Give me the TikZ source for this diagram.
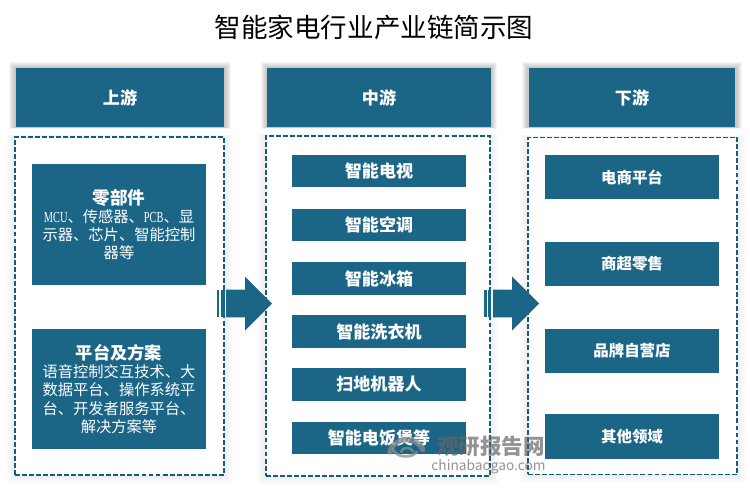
\documentclass[tikz,border=0pt]{standalone}
\usepackage{fontspec}
\usepackage{graphicx}
\setmainfont{Noto Sans CJK SC}
\newfontfamily\latinpart{Liberation Serif}
\usetikzlibrary{backgrounds}
\usetikzlibrary{shapes.arrows}
\definecolor{chainblue}{RGB}{27,101,135}
\definecolor{dashblue}{RGB}{18,92,130}
\tikzset{
	headbox/.style = {
		fill=chainblue, text=white, inner sep=0,
		minimum height=1.18cm, font=\fontsize{9.7}{11}\selectfont\bfseries
	},
	panel/.style = {
		draw=dashblue, fill=white, line width=0.8pt, inner sep=0,
		dash pattern=on 2.8pt off 1.2pt
	},
	itembox/.style = {
		fill=chainblue, text=white, inner sep=0, align=center,
		minimum width=3.48cm, font=\fontsize{8.7}{10.4}\selectfont
	},
	midbox/.style = {
		itembox, minimum height=0.65cm, font=\fontsize{9.7}{11}\selectfont\bfseries
	},
	flowarrow/.style = {
		fill=chainblue, single arrow, inner xsep=0, inner ysep=0.27cm,
		minimum height=0.92cm, outer sep=0, anchor=tip,
		single arrow head extend=0.26cm, single arrow tip angle=90
	},
	flowbar/.style = {
		fill=chainblue, inner sep=0, minimum height=0.54cm
	},
	markgray/.style = {
		text=black!60, opacity=0.7, inner sep=0
	},
	logoline/.style = {
		draw=black!45, opacity=0.75, line cap=round
	}
}
% soft edge round a node, on the background layer: node, steps, opacity, top and bottom spread
\newcommand{\softedge}[5]{%
	\begin{pgfonlayer}{background}
		\foreach \d in {1,...,#2}
		{
			\fill [black, opacity=#3] ([xshift=-\d*0.02cm, yshift=\d*#4cm]#1.north west) rectangle ([xshift=\d*0.02cm, yshift=-\d*#5cm]#1.south east);
		}
	\end{pgfonlayer}
}
\begin{document}
\begin{tikzpicture}[x=0.02cm, y=-0.02cm]
	\useasboundingbox (0, 0) rectangle (750, 490);
	\node [font=\fontsize{15.1}{18}\selectfont] (title) at (374, 27) {智能家电行业产业链简示图};
	% headers
	\node [headbox, minimum width=4.18cm] (up) at (120, 97.5) {上游};
	\node [headbox, minimum width=4.48cm] (mid) at (379, 97.5) {中游};
	\node [headbox, minimum width=4.14cm] (down) at (632, 97.5) {下游};
	\softedge{up}{6}{0.04}{0.02}{0.004}
	\softedge{mid}{6}{0.04}{0.02}{0.004}
	\softedge{down}{6}{0.04}{0.02}{0.004}
	% dashed frames
	\node [panel, minimum width=4.18cm, minimum height=6.76cm] (uppanel) at (119.5, 306) {};
	\node [panel, minimum width=4.48cm, minimum height=6.8cm] (midpanel) at (378, 306) {};
	\node [panel, minimum width=4.18cm, minimum height=6.74cm] (downpanel) at (632.5, 306) {};
	\softedge{uppanel}{8}{0.006}{0.004}{0.02}
	\softedge{midpanel}{8}{0.006}{0.004}{0.02}
	\softedge{downpanel}{8}{0.006}{0.004}{0.02}
	% upstream
	\node [itembox, minimum height=2.42cm] (parts) at (119, 224.5) {%
		{\fontsize{10}{10.4}\selectfont\bfseries 零部件}\\
		{\latinpart\scalebox{0.68}[1]{MCU}}、传感器、{\latinpart\scalebox{0.68}[1]{PCB}}、显\\
		示器、芯片、智能控制\\
		器等
	};
	\node [itembox, minimum height=2.4cm] (platform) at (119, 389) {%
		{\fontsize{9.8}{10.4}\selectfont\bfseries 平台及方案}\\
		语音控制交互技术、大\\
		数据平台、操作系统平\\
		台、开发者服务平台、\\
		解决方案等
	};
	% midstream
	\foreach [count=\i] \y/\name in {171/智能电视, 225/智能空调, 278.5/智能冰箱, 331.5/智能洗衣机, 384.5/扫地机器人, 438/智能电饭煲等}
	{
		\node [midbox] (mid\i) at (379, \y) {\name};
	}
	% downstream
	\foreach [count=\i] \y/\name in {177/电商平台, 264/商超零售, 351/品牌自营店, 436.5/其他领域}
	{
		\node [itembox, minimum height=0.89cm, font=\fontsize{8.8}{10.4}\selectfont\bfseries] (down\i) at (632, \y) {\name};
	}
	% arrows
	\node [flowbar, minimum width=0.05cm] (barA) at (218, 303.5) {};
	\node [flowbar, minimum width=0.08cm] (barB) at (222.5, 303.5) {};
	\node [flowarrow] (arrowA) at (272, 303.5) {};
	\node [flowbar, minimum width=0.05cm] (barC) at (485.5, 303.5) {};
	\node [flowbar, minimum width=0.05cm] (barD) at (489.5, 303.5) {};
	\node [flowarrow] (arrowB) at (539, 303.5) {};
	% watermark
	\draw [logoline, line width=3pt] (390, 452) arc (190:340:17 and 15);
	\draw [logoline, line width=1.6pt] (393, 449) arc (170:30:13 and 9);
	\draw [logoline, line width=1.4pt] (401, 452) arc (180:350:6 and 4);
	\node [markgray, font=\fontsize{12.2}{14}\selectfont\bfseries] (markcn) at (491, 446) {观研报告网};
	\node [markgray, font=\fontsize{7.8}{9}\selectfont] (markurl) at (488.5, 467) {chinabaogao.com};
\end{tikzpicture}
\end{document}
